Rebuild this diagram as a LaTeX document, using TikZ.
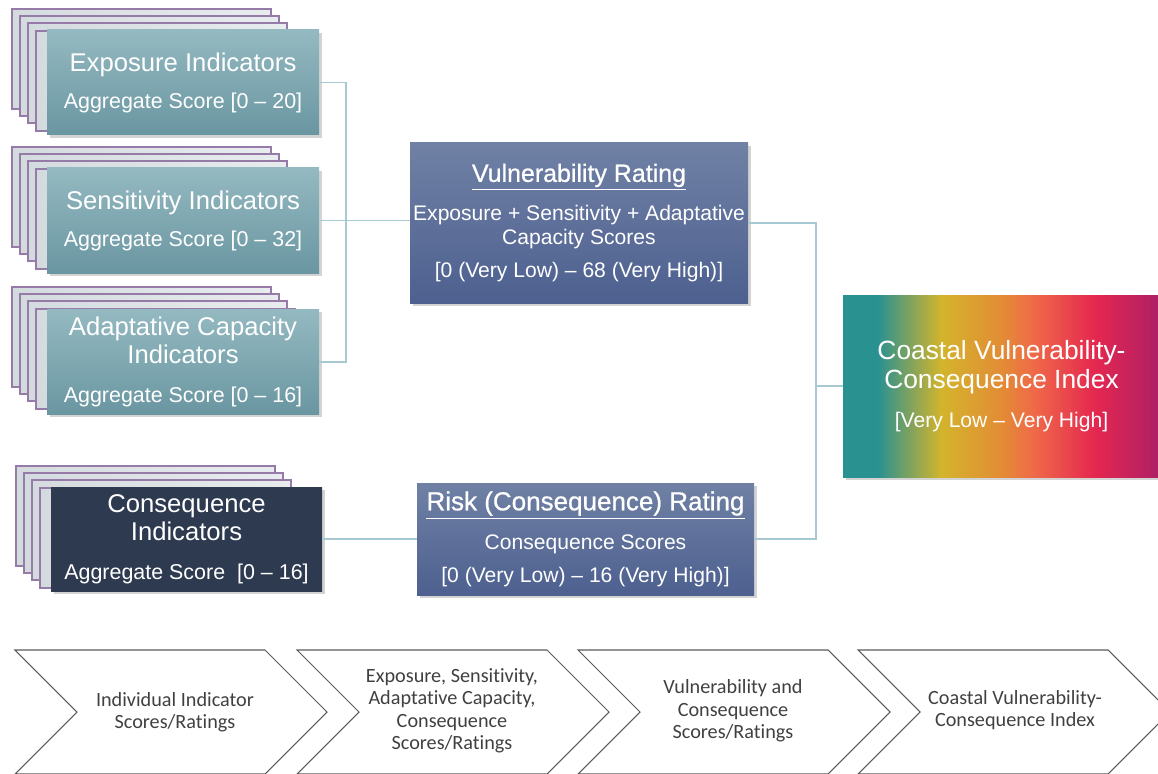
\documentclass[tikz,border=0pt]{standalone}
\usepackage{fontspec}
\setmainfont{Liberation Sans}
\newfontfamily\titlefont[FakeBold=0.7]{Liberation Sans}
\newfontfamily\chevfont[Ligatures=NoCommon]{Carlito}
\usetikzlibrary{shadows}

\definecolor{tealtop}{RGB}{148,185,193}
\definecolor{tealbot}{RGB}{106,150,161}
\definecolor{navybox}{RGB}{45,58,79}
\definecolor{ratetop}{RGB}{112,129,165}
\definecolor{ratebot}{RGB}{77,96,143}
\definecolor{layerline}{RGB}{150,122,168}
\definecolor{layerleft}{RGB}{212,219,222}
\definecolor{layerright}{RGB}{232,236,238}
\definecolor{linkcol}{RGB}{167,201,209}
\definecolor{chevline}{RGB}{90,90,90}
\definecolor{chevtextcol}{RGB}{64,64,64}
\definecolor{ciTeal}{RGB}{42,145,145}
\definecolor{ciYellow}{RGB}{211,180,44}
\definecolor{ciOrange}{RGB}{227,140,53}
\definecolor{ciCoral}{RGB}{239,106,72}
\definecolor{ciRed}{RGB}{229,40,79}
\definecolor{ciMagenta}{RGB}{174,31,102}
\pgfdeclarehorizontalshading{cvci}{100bp}{color(0bp)=(ciTeal); color(25bp)=(ciTeal); color(30.5bp)=(ciTeal); color(40.5bp)=(ciYellow); color(50bp)=(ciOrange); color(55bp)=(ciCoral); color(64.5bp)=(ciRed); color(75bp)=(ciMagenta); color(100bp)=(ciMagenta)}

\begin{document}
\begin{tikzpicture}[
  layer/.style={draw=layerline,left color=layerleft,right color=layerright,line width=0.6pt},
  boxshadow/.style={drop shadow={shadow xshift=1.5pt,shadow yshift=-1.5pt,opacity=0.35}},
  indbox/.style={rectangle,inner sep=0pt,minimum width=5.44cm,minimum height=2.1cm,text=white,align=center,top color=tealtop,bottom color=tealbot,boxshadow,font=\fontsize{14.6}{16}\selectfont},
  ratebox/.style={rectangle,inner sep=0pt,text=white,align=center,top color=ratetop,bottom color=ratebot,boxshadow,font=\fontsize{12}{13.7}\selectfont},
  link/.style={draw=linkcol,line width=0.9pt},
  chev/.style={draw=chevline,line width=0.6pt},
  chevtext/.style={text=chevtextcol,align=center,font=\chevfont\fontsize{11.5}{12.8}\selectfont}
]
\useasboundingbox (0,0) rectangle (23.16,15.46);

% indicator stacks
\draw[layer] (0.24,15.28) rectangle (5.42,13.28);
\draw[layer] (0.40,15.14) rectangle (5.58,13.14);
\draw[layer] (0.56,15.00) rectangle (5.74,13.00);
\draw[layer] (0.72,14.84) rectangle (5.90,12.84);
\node[indbox] (expo) at (3.66,13.81) {Exposure Indicators\\[5pt]{\fontsize{12.2}{14}\selectfont Aggregate Score [0 – 20]}};

\draw[layer] (0.24,12.52) rectangle (5.42,10.52);
\draw[layer] (0.40,12.38) rectangle (5.58,10.38);
\draw[layer] (0.56,12.24) rectangle (5.74,10.24);
\draw[layer] (0.72,12.08) rectangle (5.90,10.08);
\node[indbox] (sens) at (3.66,11.05) {Sensitivity Indicators\\[5pt]{\fontsize{12.2}{14}\selectfont Aggregate Score [0 – 32]}};

\draw[layer] (0.24,9.72) rectangle (5.42,7.72);
\draw[layer] (0.40,9.58) rectangle (5.58,7.58);
\draw[layer] (0.56,9.44) rectangle (5.74,7.44);
\draw[layer] (0.72,9.28) rectangle (5.90,7.28);
\node[indbox] (adapt) at (3.66,8.22) {Adaptative Capacity\\Indicators\\[6pt]{\fontsize{12.2}{14}\selectfont Aggregate Score [0 – 16]}};

\draw[layer] (0.32,6.14) rectangle (5.50,4.14);
\draw[layer] (0.48,6.00) rectangle (5.66,4.00);
\draw[layer] (0.64,5.86) rectangle (5.82,3.86);
\draw[layer] (0.80,5.70) rectangle (5.98,3.70);
\node[indbox,top color=navybox,bottom color=navybox,minimum width=5.42cm,minimum height=2.08cm] (cons) at (3.73,4.68) {Consequence\\Indicators\\[6pt]{\fontsize{12.2}{14}\selectfont Aggregate Score~~[0 – 16]}};

% ratings
\node[ratebox,minimum width=6.76cm,minimum height=3.2cm] (vuln) at (11.58,11.0) {{\titlefont\fontsize{14.2}{17}\selectfont\underline{Vulnerability Rating}}\\[8.5pt]Exposure + Sensitivity + Adaptative\\Capacity Scores\\[5pt][0 (Very Low) – 68 (Very High)]};
\node[ratebox,minimum width=6.74cm,minimum height=2.24cm] (risk) at (11.71,4.68) {{\titlefont\fontsize{14.8}{17}\selectfont\underline{Risk (Consequence) Rating}}\\[8.5pt]Consequence Scores\\[5pt][0 (Very Low) – 16 (Very High)]};

% index
\node[rectangle,inner sep=0pt,minimum width=6.34cm,minimum height=3.64cm,shading=cvci,boxshadow,text=white,align=center,font=\fontsize{15}{17}\selectfont] (cvci) at (20.03,7.74) {Coastal Vulnerability-\\Consequence Index\\[5pt]{\fontsize{12}{14}\selectfont [Very Low – Very High]}};

% links
\coordinate (lj) at (6.92,11.05);
\coordinate (rj) at (16.32,7.74);
\draw[link] (expo.east) -| (lj) |- (adapt.east);
\draw[link] (sens.east) -- (vuln.west |- sens.east);
\draw[link] (vuln.east) -| (rj) |- (risk.east);
\draw[link] (rj) -- (cvci.west);
\draw[link] (cons.east) -- (risk.west);

% steps
\draw[chev] (0.30,2.46) -- (5.30,2.46) -- (6.54,1.22) -- (5.30,-0.02) -- (0.30,-0.02) -- (1.54,1.22) -- cycle;
\draw[chev] (5.94,2.46) -- (10.94,2.46) -- (12.18,1.22) -- (10.94,-0.02) -- (5.94,-0.02) -- (7.18,1.22) -- cycle;
\draw[chev] (11.56,2.46) -- (16.56,2.46) -- (17.80,1.22) -- (16.56,-0.02) -- (11.56,-0.02) -- (12.80,1.22) -- cycle;
\draw[chev] (17.16,2.46) -- (22.16,2.46) -- (23.40,1.22) -- (22.16,-0.02) -- (17.16,-0.02) -- (18.40,1.22) -- cycle;
\node[chevtext] (lvl1) at (3.50,1.22) {Individual Indicator\\Scores/Ratings};
\node[chevtext] (lvl2) at (9.04,1.24) {Exposure, Sensitivity,\\Adaptative Capacity,\\Consequence\\Scores/Ratings};
\node[chevtext] (lvl3) at (14.66,1.24) {Vulnerability and\\Consequence\\Scores/Ratings};
\node[chevtext] (lvl4) at (20.30,1.26) {Coastal Vulnerability-\\Consequence Index};

\end{tikzpicture}
\end{document}
